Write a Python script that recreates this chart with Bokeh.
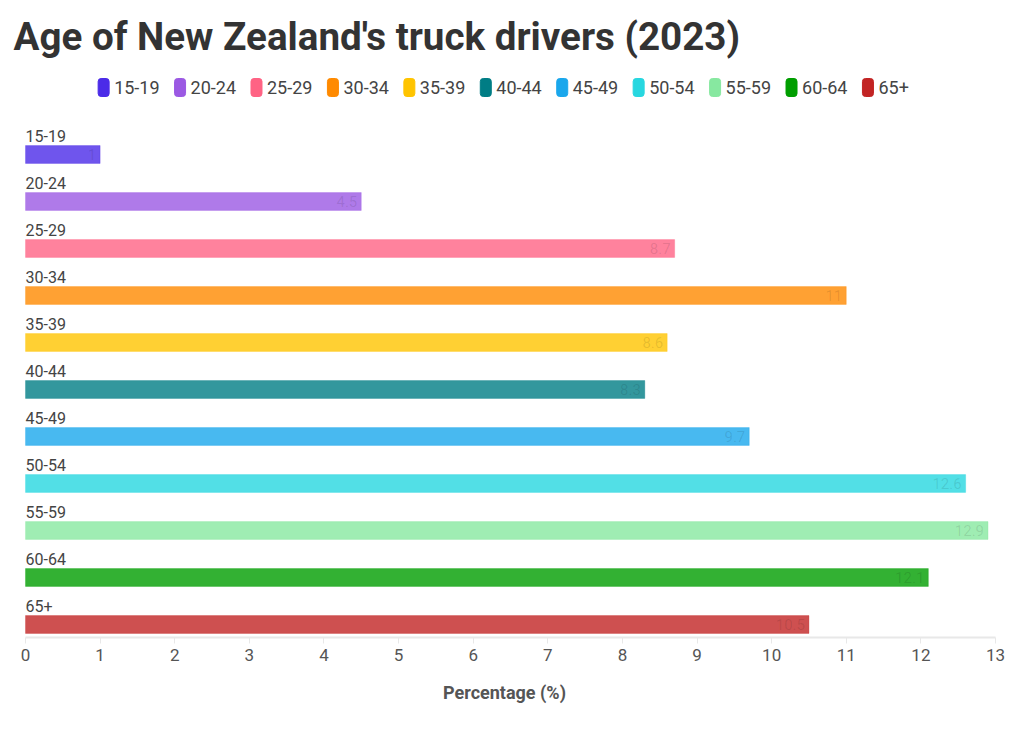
from bokeh.plotting import figure
from bokeh.models import ColumnDataSource, Range1d, FixedTicker
from bokeh.core.properties import value
from bokeh.embed import file_html
from bokeh.resources import INLINE

# ---- data ----
age_groups = ["15-19", "20-24", "25-29", "30-34", "35-39", "40-44",
              "45-49", "50-54", "55-59", "60-64", "65+"]
percentages = [1.0, 4.5, 8.7, 11.0, 8.6, 8.3, 9.7, 12.6, 12.9, 12.1, 10.5]
colors = ["#4B2BE8", "#9B59E3", "#FF6384", "#FF8A00", "#FFC400", "#007D85",
          "#1AA7EC", "#27D7E0", "#87E8A0", "#009E00", "#C22424"]
x_ticks = list(range(0, 14))
title_text = "Age of New Zealand's truck drivers (2023)"
x_label = "Percentage (%)"

FONT = "Roboto"
W, H = 1008, 717
FRAME_BOTTOM = 637            # pixel row of the x axis
PLOT_LEFT, PLOT_RIGHT = 25, 995
ROW_PX = 47                   # pixels per category row
FIRST_ROW_PX = 154            # centre of the first bar
X_MAX = 13

n = len(age_groups)
ypos = [n - 1 - i for i in range(n)]

px_per_unit = (PLOT_RIGHT - PLOT_LEFT) / X_MAX
x_start = -PLOT_LEFT / px_per_unit
x_end = X_MAX + (W - PLOT_RIGHT) / px_per_unit
y_start = -(FRAME_BOTTOM - (FIRST_ROW_PX + (n - 1) * ROW_PX)) / ROW_PX
y_end = (n - 1) + FIRST_ROW_PX / ROW_PX

p = figure(width=W, height=H, output_backend="svg", toolbar_location=None,
           x_range=Range1d(x_start, x_end), y_range=Range1d(y_start, y_end),
           y_axis_location=None, title_location=None,
           min_border_left=0, min_border_right=0,
           min_border_top=0, min_border_bottom=H - FRAME_BOTTOM)
p.extra_x_ranges = {"px": Range1d(0, W)}
p.extra_y_ranges = {"px": Range1d(FRAME_BOTTOM, 0)}
p.xgrid.visible = False
p.ygrid.visible = False
p.outline_line_color = None

# ---------------- title ----------------
p.text(x=[13], y=[36], text=[title_text], x_range_name="px", y_range_name="px",
       text_font=value(FONT), text_font_size="38.6px", text_font_style="bold",
       text_color="#333333", text_baseline="alphabetic", text_align="left")

# ---------------- legend ----------------
def label_width(s, px=18):
    w = 0.0
    for ch in s:
        if ch.isdigit():
            w += 0.562 * px
        elif ch == "-":
            w += 0.276 * px
        elif ch == "+":
            w += 0.566 * px
        else:
            w += 0.5 * px
    return w

GLYPH_W, STANDOFF, SPACING = 11, 5, 15
item_w = [GLYPH_W + STANDOFF + label_width(c) for c in age_groups]
total = sum(item_w) + SPACING * (len(item_w) - 1)
gx, x0 = [], (W - total) / 2 - 1
for w in item_w:
    gx.append(x0)
    x0 += w + SPACING
leg = ColumnDataSource(dict(
    gx=[g + GLYPH_W / 2 for g in gx], tx=[g + GLYPH_W + STANDOFF for g in gx],
    y=[87] * len(age_groups), cat=age_groups, color=colors))
p.rect(x="gx", y="y", width=GLYPH_W, height=18, source=leg,
       x_range_name="px", y_range_name="px",
       fill_color="color", line_color="color", border_radius=3)
p.text(x="tx", y="y", text="cat", source=leg, x_range_name="px", y_range_name="px",
       text_font=value(FONT), text_font_size="18px", text_color="#444444",
       text_baseline="middle", text_align="left")

# ---------------- bars ----------------
src = ColumnDataSource(dict(
    cat=age_groups, val=percentages, color=colors, y=ypos,
    vlabel=[f"{v:g}" for v in percentages],
))

p.hbar(y="y", right="val", left=0, height=0.38, source=src,
       fill_color="color", fill_alpha=0.8, line_color="color", line_alpha=0.3)

# category labels above bars
p.text(x=0, y="y", text="cat", source=src, y_offset=-19,
       text_font=value(FONT), text_font_size="16px", text_color="#444444",
       text_baseline="alphabetic", text_align="left")

# value labels inside bar ends (faint, as in the original)
p.text(x="val", y="y", text="vlabel", source=src, x_offset=-4,
       text_font=value(FONT), text_font_size="15px", text_color="#000000",
       text_alpha=0.1, text_baseline="middle", text_align="right")

# ---------------- x axis ----------------
ax = p.xaxis[0]
ax.bounds = (0, X_MAX)
ax.ticker = FixedTicker(ticks=x_ticks)
ax.axis_label = x_label
ax.axis_label_text_font = FONT
ax.axis_label_text_font_size = "18px"
ax.axis_label_text_font_style = "bold"
ax.axis_label_text_color = "#555555"
ax.axis_label_standoff = 18
ax.major_label_text_font = FONT
ax.major_label_text_font_size = "17px"
ax.major_label_text_color = "#555555"
ax.axis_line_color = "#e8e8e8"
ax.axis_line_width = 2
ax.major_tick_line_color = "#e8e8e8"
ax.major_tick_in = 0
ax.major_tick_out = 6
ax.minor_tick_line_color = None

open("out.html", "w").write(file_html(p, INLINE))
